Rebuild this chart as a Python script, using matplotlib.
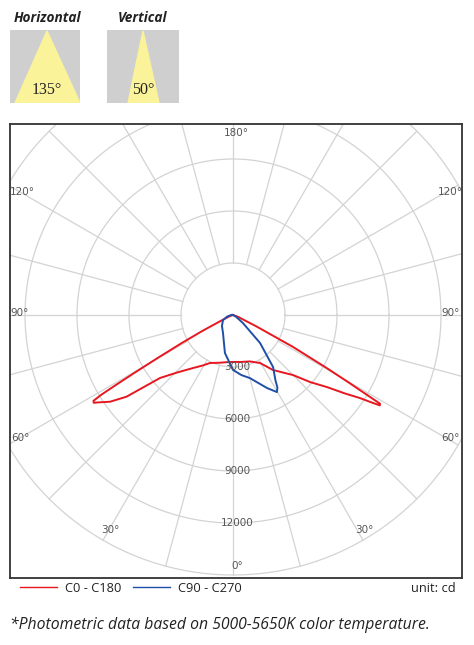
import numpy as np
import matplotlib
matplotlib.use("Agg")
import matplotlib.pyplot as plt
from matplotlib.patches import Rectangle, Polygon

# ---- data (signed gamma angle in degrees: negative = left half, candela) ----
red_angles = [-90, -70, -64, -62.5, -61.3, -60.3, -59.6, -59.1, -58.8, -58.4, -57.8, -56.8,
              -54.8, -52.5, -49.2, -44, -37, -31, -25.6, -15, -8, 0,
              10, 20, 29.4, 36, 41, 45, 49, 52.5, 55, 56.8, 57.8, 58.4, 58.9, 59.2,
              59.7, 60.5, 62, 64, 70, 90]
red_cd = [0, 200, 900, 2000, 3400, 5000, 6600, 8000, 8900, 9450, 9500, 9200,
          8680, 7740, 5560, 4600, 3830, 3400, 3070, 2850, 2750, 2710,
          2750, 2850, 3180, 3920, 4400, 4900, 5900, 6830, 7900, 8750, 9500, 9950, 9900, 9000,
          7800, 6200, 3900, 1500, 300, 0]
blue_angles = [-90, -75, -63, -45, -29, -12, 0, 8, 15, 25, 29.7, 31.5, 33, 37.6, 44, 51, 60, 90]
blue_cd = [100, 350, 650, 900, 1190, 2240, 3170, 3500, 3770, 4650, 5120, 4900, 4500, 3790,
           2250, 740, 200, 0]
ring_values = [3000, 6000, 9000, 12000]
series_names = ["C0 - C180", "C90 - C270"]

W, H = 474, 645
fig = plt.figure(figsize=(W / 100, H / 100), dpi=100)
fig.patch.set_facecolor("white")

def px_axes(x0, y0, x1, y1):
    return fig.add_axes([x0 / W, 1 - y1 / H, (x1 - x0) / W, (y1 - y0) / H])

# ---- polar chart area ----
cx, cy = 233, 315
bx0, by0, bx1, by1 = 10, 124, 462, 578
s = 52 / 3000.0  # px per cd
ax = px_axes(bx0, by0, bx1, by1)
ax.set_xlim((bx0 - cx) / s, (bx1 - cx) / s)
ax.set_ylim(-(by1 - cy) / s, (cy - by0) / s)
ax.set_aspect("auto")
ax.set_xticks([]); ax.set_yticks([])
for sp in ax.spines.values():
    sp.set_color("#333333"); sp.set_linewidth(1.3)

gc = "#d3d3d3"
t = np.linspace(0, 2 * np.pi, 400)
for R in range(3000, 15001, 3000):
    ax.plot(R * np.cos(t), R * np.sin(t), color=gc, lw=0.9, zorder=1)
for a in range(0, 360, 15):
    ar = np.radians(a)
    ax.plot([3000 * np.sin(ar), 15000 * np.sin(ar)], [-3000 * np.cos(ar), -15000 * np.cos(ar)],
            color=gc, lw=0.9, zorder=1)

def to_xy(ang, r):
    a = np.radians(np.asarray(ang, float)); r = np.asarray(r, float)
    return r * np.sin(a), -r * np.cos(a)

x, y = to_xy(red_angles, red_cd)
ax.plot(x, y, color="#e8171f", lw=1.4, zorder=3, label=series_names[0])
x, y = to_xy(blue_angles, blue_cd)
ax.plot(x, y, color="#1f4fa8", lw=1.4, zorder=3, label=series_names[1])

tc = "#555555"
for v in ring_values:
    ax.text(4 / s, -v, str(v), ha="center", va="center", fontsize=7.5, color=tc, zorder=4)
ax.text(4 / s, -(566 - cy) / s, "0°", ha="center", va="center", fontsize=7.5, color=tc)
for px, py, txt in [(236, 133, "180°"), (22, 192, "120°"), (450, 192, "120°"),
                    (20, 313, "90°"), (451, 313, "90°"), (20, 438, "60°"), (450, 438, "60°"),
                    (110, 530, "30°"), (364, 530, "30°")]:
    ax.text((px - cx) / s, (cy - py) / s, txt, ha="center", va="center", fontsize=7.5, color=tc, zorder=4)

# ---- icons ----
for (x0, x1, apex, bl, br, ttl, deg) in [(10, 80, 47, 15, 80, "Horizontal", "135°"),
                                         (107, 179, 143, 128, 159, "Vertical", "50°")]:
    ia = px_axes(x0, 30, x1, 103)
    ia.set_xlim(x0, x1); ia.set_ylim(103, 30); ia.axis("off")
    ia.add_patch(Rectangle((x0, 30), x1 - x0, 73, color="#cfcfcf"))
    ia.add_patch(Polygon([(apex, 31), (bl, 103), (br, 103)], color="#fbf39a"))
    ia.text(apex, 90, deg, ha="center", va="center", fontsize=11.5, family="Liberation Serif", color="#222222")
    fig.text(apex / W, 1 - 18 / H, ttl, ha="center", va="center", fontsize=9.8,
             fontweight="bold", fontstyle="italic", color="#222222", family="Open Sans")

# ---- legend ----
fig.add_artist(plt.Line2D([20 / W, 57 / W], [1 - 587 / H] * 2, color="#e8171f", lw=1))
fig.add_artist(plt.Line2D([133 / W, 170 / W], [1 - 587 / H] * 2, color="#1f4fa8", lw=1))
fig.text(65 / W, 1 - 588 / H, series_names[0], fontsize=9.3, va="center", color="#222222", family="Open Sans")
fig.text(178 / W, 1 - 588 / H, series_names[1], fontsize=9.3, va="center", color="#222222", family="Open Sans")
fig.text(456 / W, 1 - 588 / H, "unit: cd", fontsize=9.3, va="center", ha="right", color="#222222", family="Open Sans")
fig.text(10 / W, 1 - 625 / H, "*Photometric data based on 5000-5650K color temperature.",
         fontsize=11.3, va="center", fontstyle="italic", color="#222222", family="Open Sans")

fig.savefig("out.png", dpi=100)
